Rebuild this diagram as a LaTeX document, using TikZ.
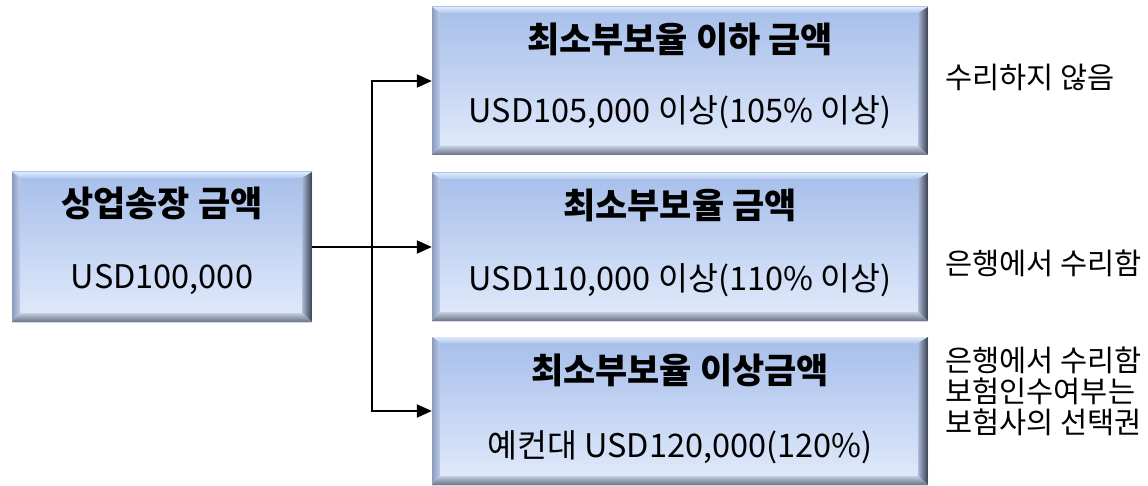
\documentclass[tikz,border=0pt]{standalone}
\usepackage{fontspec}
\setmainfont{Noto Sans CJK KR}
\usetikzlibrary{arrows.meta,calc}
\definecolor{faceTop}{RGB}{166,190,234}
\definecolor{faceBot}{RGB}{226,235,251}
\definecolor{bevTopA}{RGB}{222,233,250}
\definecolor{bevTopB}{RGB}{180,200,238}
\definecolor{bevLeftA}{RGB}{140,155,188}
\definecolor{bevLeftB}{RGB}{190,205,235}
\definecolor{bevRightA}{RGB}{55,62,78}
\definecolor{bevRightB}{RGB}{170,186,216}
\definecolor{bevBotA}{RGB}{105,112,128}
\definecolor{bevBotB}{RGB}{195,205,225}
\tikzset{
  bevbox/.style={inner sep=0pt, top color=faceTop, bottom color=faceBot,
    path picture={
      \coordinate (nw) at (path picture bounding box.north west);
      \coordinate (ne) at (path picture bounding box.north east);
      \coordinate (sw) at (path picture bounding box.south west);
      \coordinate (se) at (path picture bounding box.south east);
      \shade[top color=bevTopA, bottom color=bevTopB]
        (nw) -- (ne) -- ([shift={(-10pt,-6pt)}]ne) -- ([shift={(8pt,-6pt)}]nw) -- cycle;
      \shade[left color=bevLeftA, right color=bevLeftB]
        (nw) -- ([shift={(8pt,-6pt)}]nw) -- ([shift={(8pt,9pt)}]sw) -- (sw) -- cycle;
      \shade[left color=bevRightB, right color=bevRightA]
        (ne) -- ([shift={(-10pt,-6pt)}]ne) -- ([shift={(-10pt,9pt)}]se) -- (se) -- cycle;
      \shade[top color=bevBotB, bottom color=bevBotA]
        (sw) -- ([shift={(8pt,9pt)}]sw) -- ([shift={(-10pt,9pt)}]se) -- (se) -- cycle;
    }},
  wide/.style={bevbox, minimum width=496pt, minimum height=148pt},
  small/.style={bevbox, minimum width=300pt, minimum height=150pt},
  ttl/.style={font=\fontsize{35}{40}\selectfont\bfseries, inner sep=0pt, anchor=center},
  sub/.style={font=\fontsize{32.5}{38}\selectfont, inner sep=0pt, anchor=center},
  note/.style={font=\fontsize{29.5}{31}\selectfont, inner sep=0pt, anchor=west, align=left},
  conn/.style={line width=2pt, -{Triangle[length=15pt,width=13pt]}}
}
\begin{document}
\begin{tikzpicture}[x=1pt,y=-1pt]
\useasboundingbox (0,0) rectangle (1148,486);
\node[small] (L) at (162,247) {};
\node[wide] (T) at (680,81) {};
\node[wide] (M) at (680,247) {};
\node[wide] (B) at (680,411) {};
\node[ttl] (Lt) at (162,203) {상업송장 금액};
\node[sub] (Ls) at (162,279) {USD100,000};
\node[ttl] (Tt) at (680,39) {최소부보율 이하 금액};
\node[sub] (Ts) at (680,112) {USD105,000 이상(105\% 이상)};
\node[ttl] (Mt) at (680,205) {최소부보율 금액};
\node[sub] (Ms) at (680,280) {USD110,000 이상(110\% 이상)};
\node[ttl] (Bt) at (680,370) {최소부보율 이상금액};
\node[sub] (Bs) at (680,447) {예컨대 USD120,000(120\%)};
\node[note] (N1) at (945,77) {수리하지 않음};
\node[note] (N2) at (945,263) {은행에서 수리함};
\node[note] (N3) at (945,391) {은행에서 수리함\\보험인수여부는\\보험사의 선택권};
\coordinate (J) at (372,247);
\draw[conn] (L.east) -- (M.west);
\draw[conn] (J) |- (T.west);
\draw[conn] (J) |- (B.west);
\end{tikzpicture}
\end{document}
